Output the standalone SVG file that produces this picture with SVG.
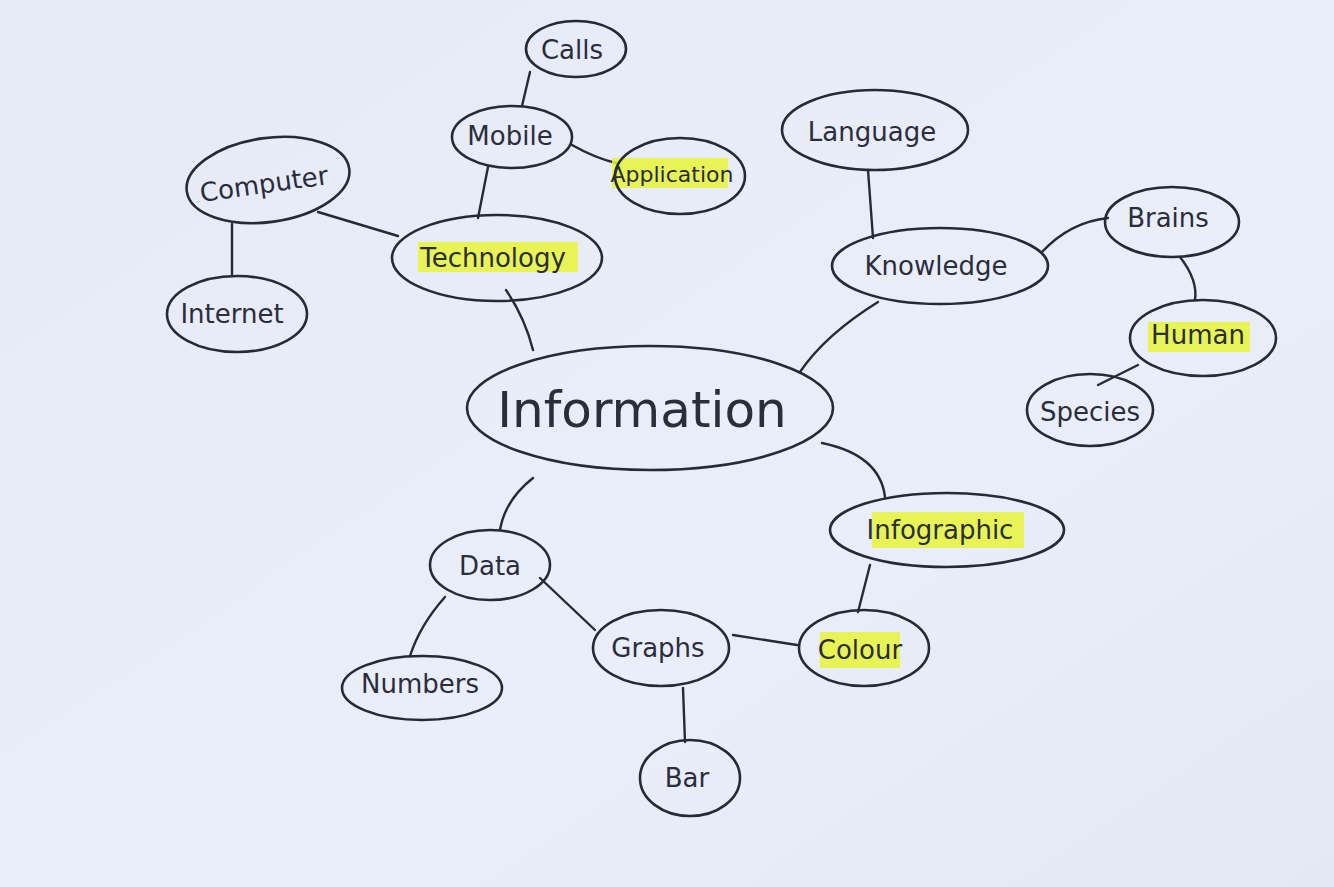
<svg xmlns="http://www.w3.org/2000/svg" width="1334" height="887" viewBox="0 0 1334 887">
<defs>
<linearGradient id="paper" x1="0" y1="0" x2="1" y2="1">
<stop offset="0" stop-color="#e6eaf6"/>
<stop offset="0.6" stop-color="#eaeef8"/>
<stop offset="1" stop-color="#e4e8f4"/>
</linearGradient>
<style>
.n{fill:none;stroke:#262a38;stroke-width:2.6}
.c{fill:none;stroke:#262a38;stroke-width:2.4;stroke-linecap:round}
.t{font-family:"DejaVu Sans",sans-serif;font-size:26px;fill:#2a2d3c;text-anchor:middle;dominant-baseline:central}
.hl{fill:#e8f53a;opacity:0.85}
</style>
</defs>
<rect width="1334" height="887" fill="url(#paper)"/>
<g id="connectors">
<path class="c" d="M530,72 L522,106"/>
<path class="c" d="M572,145 Q595,158 616,163"/>
<path class="c" d="M488,167 L478,218"/>
<path class="c" d="M398,236 L318,212"/>
<path class="c" d="M232,224 L232,276"/>
<path class="c" d="M506,290 Q525,318 533,350"/>
<path class="c" d="M868,170 L873,238"/>
<path class="c" d="M1042,252 Q1070,222 1108,218"/>
<path class="c" d="M1180,257 Q1198,280 1195,300"/>
<path class="c" d="M1138,365 L1098,385"/>
<path class="c" d="M878,302 Q825,335 800,372"/>
<path class="c" d="M822,443 Q880,455 885,497"/>
<path class="c" d="M870,565 L858,612"/>
<path class="c" d="M797,645 L733,635"/>
<path class="c" d="M533,478 Q505,500 500,530"/>
<path class="c" d="M445,597 Q420,625 410,656"/>
<path class="c" d="M540,578 L595,630"/>
<path class="c" d="M683,688 L685,742"/>
</g>
<g id="information"><ellipse class="n" cx="650" cy="408" rx="183" ry="62"/><text class="t" x="642" y="410" style="font-size:50px">Information</text></g>
<g id="calls"><ellipse class="n" cx="576" cy="49" rx="50" ry="28"/><text class="t" x="572" y="50">Calls</text></g>
<g id="mobile"><ellipse class="n" cx="512" cy="137" rx="60" ry="31"/><text class="t" x="510" y="136">Mobile</text></g>
<g id="application"><rect class="hl" x="612" y="158" width="116" height="30"/><ellipse class="n" cx="680" cy="176" rx="65" ry="38"/><text class="t" x="672" y="174" style="font-size:22px">Application</text></g>
<g id="computer"><ellipse class="n" cx="268" cy="180" rx="82" ry="42" transform="rotate(-8 268 180)"/><text class="t" x="264" y="184" transform="rotate(-8 264 184)">Computer</text></g>
<g id="technology"><rect class="hl" x="418" y="242" width="160" height="30"/><ellipse class="n" cx="497" cy="258" rx="105" ry="43"/><text class="t" x="493" y="258">Technology</text></g>
<g id="internet"><ellipse class="n" cx="237" cy="314" rx="70" ry="38"/><text class="t" x="232" y="314">Internet</text></g>
<g id="language"><ellipse class="n" cx="875" cy="130" rx="93" ry="40"/><text class="t" x="872" y="132">Language</text></g>
<g id="knowledge"><ellipse class="n" cx="940" cy="266" rx="108" ry="38"/><text class="t" x="936" y="266">Knowledge</text></g>
<g id="brains"><ellipse class="n" cx="1172" cy="222" rx="67" ry="35"/><text class="t" x="1168" y="218">Brains</text></g>
<g id="human"><rect class="hl" x="1148" y="322" width="102" height="30"/><ellipse class="n" cx="1203" cy="338" rx="73" ry="38"/><text class="t" x="1198" y="335">Human</text></g>
<g id="species"><ellipse class="n" cx="1090" cy="410" rx="63" ry="36"/><text class="t" x="1090" y="412">Species</text></g>
<g id="infographic"><rect class="hl" x="872" y="512" width="152" height="36"/><ellipse class="n" cx="947" cy="530" rx="117" ry="37"/><text class="t" x="940" y="530">Infographic</text></g>
<g id="data"><ellipse class="n" cx="490" cy="565" rx="60" ry="35"/><text class="t" x="490" y="566">Data</text></g>
<g id="graphs"><ellipse class="n" cx="661" cy="648" rx="68" ry="38"/><text class="t" x="658" y="648">Graphs</text></g>
<g id="colour"><rect class="hl" x="820" y="632" width="80" height="36"/><ellipse class="n" cx="864" cy="648" rx="65" ry="38"/><text class="t" x="860" y="650">Colour</text></g>
<g id="numbers"><ellipse class="n" cx="422" cy="688" rx="80" ry="32"/><text class="t" x="420" y="684">Numbers</text></g>
<g id="bar"><ellipse class="n" cx="690" cy="778" rx="50" ry="38"/><text class="t" x="687" y="778">Bar</text></g>
</svg>
